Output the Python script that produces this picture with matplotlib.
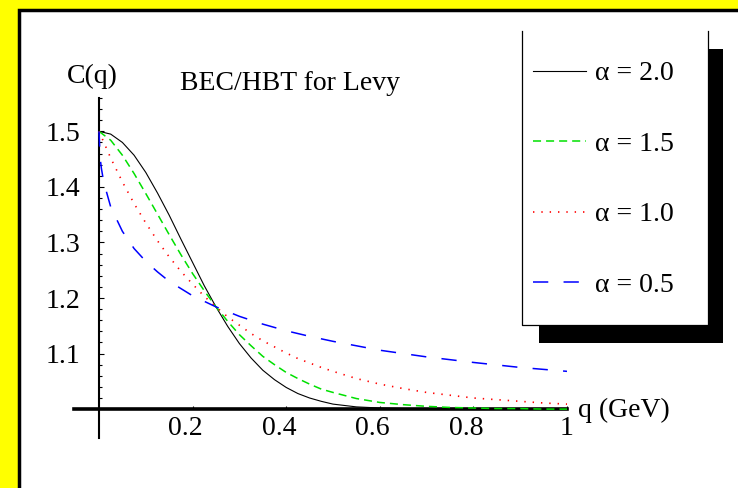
import matplotlib.pyplot as plt
from matplotlib.patches import Rectangle
from matplotlib.lines import Line2D
from matplotlib.transforms import ScaledTranslation

plt.rcParams['font.family'] = ['Liberation Serif', 'DejaVu Serif']
plt.rcParams['lines.scale_dashes'] = False

# values
q = [0, 0.025, 0.05, 0.075, 0.1, 0.125, 0.15, 0.175, 0.2, 0.225, 0.25,
     0.275, 0.3, 0.325, 0.35, 0.375, 0.4, 0.425, 0.45, 0.475, 0.5,
     0.55, 0.6, 0.65, 0.7, 0.75, 0.8, 0.85, 0.9, 0.95, 1.0]
c_a20 = [1.500, 1.495, 1.480, 1.457, 1.426, 1.389, 1.349, 1.306, 1.264, 1.222, 1.184,
         1.149, 1.118, 1.092, 1.070, 1.053, 1.039, 1.028, 1.020, 1.014, 1.009,
         1.004, 1.002, 1.001, 1.000, 1.000, 1.000, 1.000, 1.000, 1.000, 1.000]
c_a15 = [1.500, 1.484, 1.457, 1.424, 1.388, 1.351, 1.314, 1.278, 1.244, 1.213, 1.184,
         1.158, 1.134, 1.114, 1.095, 1.080, 1.066, 1.055, 1.045, 1.036, 1.030,
         1.019, 1.012, 1.008, 1.005, 1.003, 1.002, 1.001, 1.001, 1.000, 1.000]
c_a10 = [1.500, 1.452, 1.409, 1.370, 1.335, 1.303, 1.274, 1.248, 1.225, 1.203, 1.184,
         1.166, 1.151, 1.136, 1.123, 1.112, 1.101, 1.091, 1.083, 1.075, 1.068,
         1.055, 1.045, 1.037, 1.030, 1.025, 1.020, 1.017, 1.014, 1.011, 1.009]
q_a05 = [0, 0.0025, 0.005, 0.01, 0.025, 0.05, 0.075, 0.1, 0.125, 0.15, 0.175, 0.2,
         0.225, 0.25, 0.3, 0.35, 0.4, 0.45, 0.5, 0.6, 0.7, 0.8, 0.9, 1.0]
c_a05 = [1.500, 1.452, 1.434, 1.409, 1.364, 1.320, 1.289, 1.266, 1.247, 1.230, 1.217, 1.204,
         1.194, 1.184, 1.167, 1.153, 1.141, 1.131, 1.122, 1.106, 1.094, 1.084, 1.075, 1.068]

labels = ['α = 2.0', 'α = 1.5', 'α = 1.0', 'α = 0.5']
xticks = [0.2, 0.4, 0.6, 0.8, 1.0]
xticklabels = ['0.2', '0.4', '0.6', '0.8', '1']
yticks = [1.1, 1.2, 1.3, 1.4, 1.5]
yticklabels = ['1.1', '1.2', '1.3', '1.4', '1.5']
yminor = [1.02, 1.04, 1.06, 1.08, 1.12, 1.14, 1.16, 1.18, 1.22, 1.24, 1.26, 1.28,
          1.32, 1.34, 1.36, 1.38, 1.42, 1.44, 1.46, 1.48, 1.52, 1.54, 1.56]

W, H = 738, 488


def fx(px):
    return px / W


def fy(py):
    return 1 - py / H


fig = plt.figure(figsize=(7.38, 4.88), dpi=100, facecolor='#ffff00')

# white panel with black border (only left/top visible)
fig.add_artist(Rectangle((fx(18.5), -0.1), 1.2, fy(9.5) + 0.1, transform=fig.transFigure,
                         fc='white', ec='black', lw=2.5, zorder=-1))

# legend box with hard black shadow
fig.add_artist(Rectangle((fx(539), fy(343)), fx(723) - fx(539), fy(49) - fy(343),
                         transform=fig.transFigure, fc='black', ec='none', zorder=-0.8))
fig.add_artist(Rectangle((fx(522), fy(325)), fx(707.5) - fx(522), fy(31) - fy(325),
                         transform=fig.transFigure, fc='white', ec='none', zorder=-0.7))
fig.add_artist(Line2D([fx(522), fx(522), fx(707.5), fx(707.5)],
                      [fy(31), fy(325), fy(325), fy(31)],
                      transform=fig.transFigure, color='black', lw=0.9, zorder=-0.6))

ax = fig.add_axes([fx(74), fy(438), fx(567) - fx(74), fy(98) - fy(438)])
ax.patch.set_visible(False)
ax.set_xlim(-0.0534, 1.0)
ax.set_ylim(0.948, 1.559)

ax.plot(q, c_a20, color='black', lw=0.8, zorder=3)
ax.plot(q, c_a15, color='#00e000', lw=1.1, dashes=(5.8, 3.6), zorder=3)
ax.plot(q, c_a10, color='#ff0000', lw=1.2, dashes=(1.0, 5.0), zorder=3)
ax.plot(q_a05, c_a05, color='#0000ff', lw=1.1, dashes=(11, 11), zorder=3)

for s in ['top', 'right']:
    ax.spines[s].set_visible(False)
ax.spines['left'].set_position(('data', 0))
ax.spines['bottom'].set_position(('data', 1.0))
ax.spines['left'].set_linewidth(1.5)
ax.spines['bottom'].set_linewidth(2.6)

ax.set_xticks(xticks)
ax.set_xticklabels(xticklabels)
ax.set_yticks(yticks)
ax.set_yticklabels(yticklabels)
ax.set_yticks(yminor, minor=True)
ax.tick_params(axis='both', which='major', direction='in', labelsize=20, width=0.8)
ax.tick_params(axis='y', which='major', length=3.5, pad=13.5)
ax.tick_params(axis='y', which='minor', direction='in', length=2, width=0.8)
ax.tick_params(axis='x', which='major', length=2.5, pad=5)

shift = ScaledTranslation(-7 / 100, 0, fig.dpi_scale_trans)
for lbl in ax.get_xticklabels()[:-1]:
    lbl.set_transform(lbl.get_transform() + shift)

fig.text(fx(67), fy(83), 'C(q)', fontsize=20, ha='left', va='baseline')
fig.text(fx(180), fy(90), 'BEC/HBT for Levy', fontsize=20, ha='left', va='baseline')
fig.text(fx(578), fy(417), 'q (GeV)', fontsize=20, ha='left', va='baseline')

ax.legend(labels, loc='upper left', bbox_to_anchor=(fx(533), fy(61)),
          bbox_transform=fig.transFigure, frameon=False, fontsize=20,
          borderpad=0, borderaxespad=0, handlelength=1.9, handletextpad=0.32,
          labelspacing=1.62)

fig.savefig('out.png', dpi=100, facecolor=fig.get_facecolor())
